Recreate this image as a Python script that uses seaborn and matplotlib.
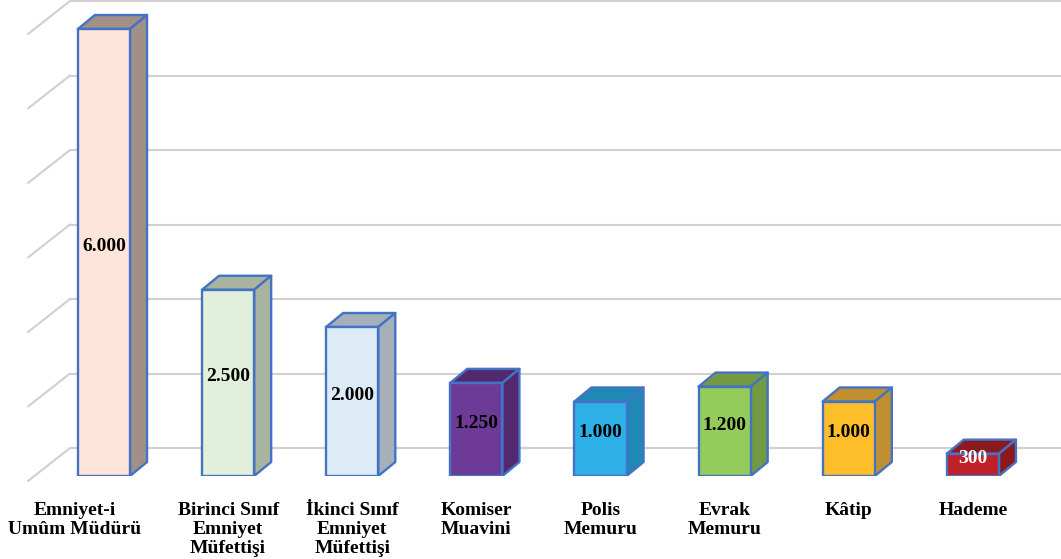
import numpy as np
import pandas as pd
import matplotlib
matplotlib.use("Agg")
import matplotlib.pyplot as plt
import seaborn as sns
from matplotlib.patches import Polygon
from matplotlib.transforms import ScaledTranslation

categories = ["Emniyet-i\nUmûm Müdürü", "Birinci Sınıf\nEmniyet\nMüfettişi",
              "İkinci Sınıf\nEmniyet\nMüfettişi", "Komiser\nMuavini",
              "Polis\nMemuru", "Evrak\nMemuru", "Kâtip", "Hademe"]
values = [6000, 2500, 2000, 1250, 1000, 1200, 1000, 300]
value_labels = ["6.000", "2.500", "2.000", "1.250", "1.000", "1.200", "1.000", "300"]
label_colors = ["black"] * 7 + ["white"]
front_colors = ["#FDE5D9", "#E2EFDA", "#DDEBF7", "#6E3A98", "#2DB0E6", "#95CB5A", "#FDBE2A", "#C0202A"]
side_colors = ["#A09088", "#A8B3A0", "#A6B0BA", "#52296F", "#1F88B5", "#739A42", "#C09030", "#8B1A1F"]
grid_values = [0, 1000, 2000, 3000, 4000, 5000, 6000]

sns.set_theme(style="white")
plt.rcParams['font.family'] = ['Liberation Serif', 'DejaVu Serif']

W, H = 1061, 559
fig = plt.figure(figsize=(W / 100, H / 100), dpi=100)
ax = fig.add_axes([28 / W, (H - 476) / H, (W - 28) / W, 476 / H])

df = pd.DataFrame({"cat": categories, "val": values})
sns.barplot(data=df, x="cat", y="val", hue="cat", palette=front_colors,
            width=0.42, edgecolor="#4472C4", linewidth=1.7, saturation=1,
            legend=False, ax=ax, zorder=3)

x0l, x1l = -0.612, 7.71
y1 = 6000 * 476 / 447
ax.set_xlim(x0l, x1l)
ax.set_ylim(0, y1)

axw_px = W - 28
axh_px = 476
sx = (x1l - x0l) / axw_px
sy = y1 / axh_px

# back wall gridlines and left diagonals
gx_back = x0l + 42 * sx
for v in grid_values:
    yb = v + 28 * sy
    ax.plot([gx_back, x1l], [yb, yb], color="#D0D0D0", lw=1.5, zorder=0, clip_on=False,
            solid_capstyle="butt")
    ax.plot([x0l, gx_back], [yb - 33 * sy, yb], color="#D0D0D0", lw=1.5, zorder=0,
            clip_on=False)

# 3D faces
dx, dy = 17 * sx, 14 * sy
for i, p in enumerate(ax.patches[:len(values)]):
    bx = p.get_x()
    w = p.get_width()
    h = p.get_height()
    top = Polygon([(bx, h), (bx + w, h), (bx + w + dx, h + dy), (bx + dx, h + dy)],
                  closed=True, facecolor=side_colors[i], edgecolor="#4472C4", lw=1.7,
                  zorder=2, joinstyle="round")
    side = Polygon([(bx + w, 0), (bx + w + dx, dy), (bx + w + dx, h + dy), (bx + w, h)],
                   closed=True, facecolor=side_colors[i], edgecolor="#4472C4", lw=1.7,
                   zorder=2, joinstyle="round")
    ax.add_patch(top)
    ax.add_patch(side)
    ax.text(bx + w / 2, h / 2 + 6 * sy, value_labels[i], ha="center", va="center",
            fontsize=14, fontweight="bold", color=label_colors[i], zorder=5)

ax.set_xticks(range(len(categories)))
ax.set_xticklabels(categories, fontsize=14, fontweight="bold", color="black")
ax.tick_params(axis="x", length=0, pad=19)
for lbl in ax.get_xticklabels():
    lbl.set_linespacing(1.12)
first = ax.get_xticklabels()[0]
first.set_transform(first.get_transform() + ScaledTranslation(-29 / 100, 0, fig.dpi_scale_trans))
ax.set_yticks([])
ax.set_xlabel("")
ax.set_ylabel("")
for s in ax.spines.values():
    s.set_visible(False)

fig.savefig("out.png", dpi=100)
